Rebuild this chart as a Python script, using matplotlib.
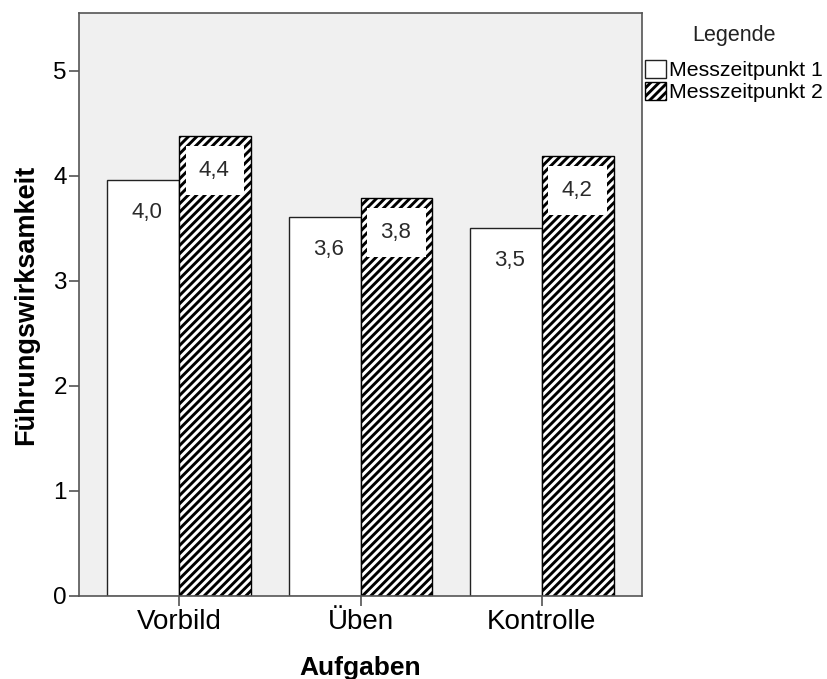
import matplotlib
matplotlib.use("Agg")
import matplotlib.pyplot as plt
from matplotlib.patches import Rectangle
import numpy as np

# Mittelwerte der Führungswirksamkeit je Aufgabe und Messzeitpunkt
categories = ["Vorbild", "Üben", "Kontrolle"]
series_names = ["Messzeitpunkt 1", "Messzeitpunkt 2"]
mzp1 = [3.96, 3.61, 3.50]
mzp2 = [4.38, 3.79, 4.19]
yticks = [0, 1, 2, 3, 4, 5]

plt.rcParams["font.family"] = ["Liberation Sans", "DejaVu Sans"]
plt.rcParams["hatch.linewidth"] = 2.1

fig = plt.figure(figsize=(8.27, 6.79), dpi=100)
ax = fig.add_axes([79 / 827, 1 - 596 / 679, 563 / 827, 583 / 679])
ax.set_facecolor("#f0f0f0")

x = np.arange(len(categories))
w = 0.395
b1 = ax.bar(x - w / 2, mzp1, w, facecolor="white", edgecolor="#222222",
            linewidth=1.0, label=series_names[0], zorder=2)
b2 = ax.bar(x + w / 2, mzp2, w, facecolor="white", edgecolor="black",
            hatch="////", linewidth=1.0, label=series_names[1], zorder=2)

def fmt(v):
    return f"{v:.1f}".replace(".", ",")

# Wertbeschriftungen: Messzeitpunkt 1 frei im Balken
for xi, v in zip(x - w / 2, mzp1):
    ax.text(xi + 0.02, v - 0.31, fmt(v), ha="center", va="center",
            fontsize=16, color="#2a2a2a", zorder=3)

# Messzeitpunkt 2: weißes Feld im schraffierten Balken
gap_top = 0.095
box_h = 0.47
inset = 0.036
for xi, v in zip(x + w / 2, mzp2):
    ax.add_patch(Rectangle((xi - w / 2 + inset, v - gap_top - box_h),
                           w - 2 * inset, box_h, facecolor="white",
                           edgecolor="none", zorder=3))
    ax.text(xi - 0.005, v - gap_top - box_h / 2, fmt(v), ha="center",
            va="center", fontsize=16, color="#2a2a2a", zorder=4)

ax.set_xlim(-0.552, 2.552)
ax.set_ylim(0, 5.55)
ax.set_xticks(x)
ax.set_xticklabels(categories)
ax.set_yticks(yticks)
ax.set_yticklabels([str(t) for t in yticks])

ax.tick_params(axis="x", length=7.2, width=1.1, color="#444444",
               labelsize=20, pad=2.5, labelcolor="black")
ax.tick_params(axis="y", length=7.2, width=1.1, color="#444444",
               labelsize=17.5, pad=1.5, labelcolor="black")
for s in ax.spines.values():
    s.set_color("#555555")
    s.set_linewidth(1.2)

ax.set_xlabel("Aufgaben", fontsize=19, fontweight="bold", va="center")
ax.xaxis.set_label_coords(0.5, (596 - 668) / 583)
ax.set_ylabel("Führungswirksamkeit", fontsize=19.5, fontweight="bold",
              va="center")
ax.yaxis.set_label_coords((26 - 79) / 563, 0.5)

# Legende: Titel separat, darunter die beiden Einträge
fig.text(734 / 827, 1 - 35 / 679, "Legende", ha="center", va="center",
         fontsize=15.5, color="#222222")
leg = fig.legend(handles=[b1, b2], labels=series_names,
                 loc="upper center", bbox_to_anchor=(734 / 827, 1 - 60 / 679),
                 frameon=False, fontsize=15.3,
                 handlelength=0.95, handleheight=0.95, handletextpad=0.15,
                 labelspacing=0.05, borderaxespad=0, borderpad=0)

fig.savefig("out.png", dpi=100)
